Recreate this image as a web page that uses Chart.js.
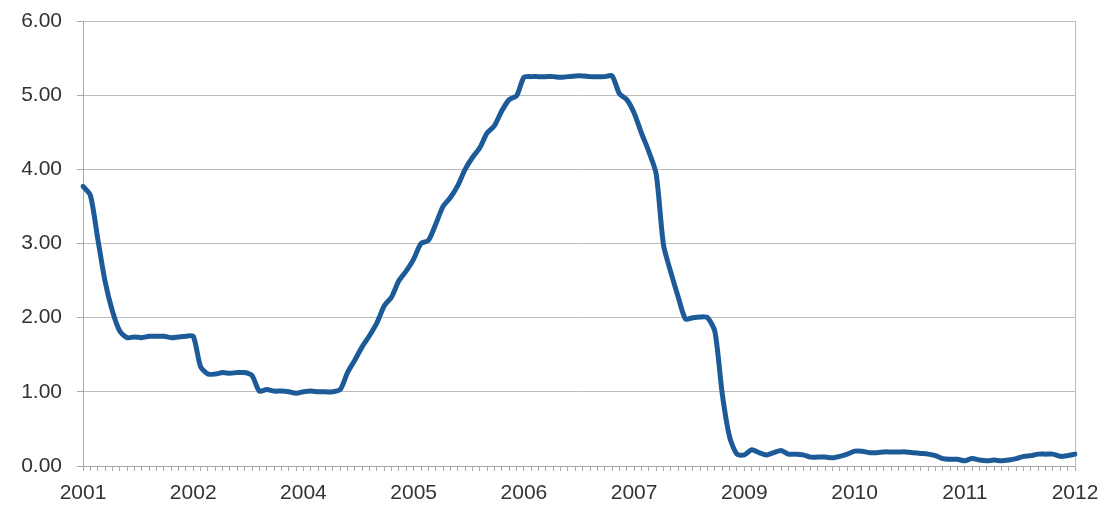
<!DOCTYPE html>
<html>
<head>
<meta charset="utf-8">
<script src="https://cdn.jsdelivr.net/npm/chart.js@4/dist/chart.umd.min.js"></script>
<style>
  html, body { margin: 0; padding: 0; background: #ffffff; }
  #wrap { width: 1102px; height: 507px; position: relative; }
</style>
</head>
<body>
<div id="wrap"><canvas id="c" width="1102" height="507"></canvas></div>
<script>
// Monthly effective rate, July 2001 through October 2012 (percent)
const rate2001 = [3.77, 3.65, 3.07, 2.49, 2.09, 1.82]; // Jul–Dec
const rate2002 = [1.73, 1.74, 1.73, 1.75, 1.75, 1.75, 1.73, 1.74, 1.75, 1.75, 1.34, 1.24];
const rate2003 = [1.24, 1.26, 1.25, 1.26, 1.26, 1.22, 1.01, 1.03, 1.01, 1.01, 1.00, 0.98];
const rate2004 = [1.00, 1.01, 1.00, 1.00, 1.00, 1.03, 1.26, 1.43, 1.61, 1.76, 1.93, 2.16];
const rate2005 = [2.28, 2.50, 2.63, 2.79, 3.00, 3.04, 3.26, 3.50, 3.62, 3.78, 4.00, 4.16];
const rate2006 = [4.29, 4.49, 4.59, 4.79, 4.94, 4.99, 5.24, 5.25, 5.25, 5.25, 5.25, 5.24];
const rate2007 = [5.25, 5.26, 5.26, 5.25, 5.25, 5.25, 5.26, 5.02, 4.94, 4.76, 4.49, 4.24];
const rate2008 = [3.94, 2.98, 2.61, 2.28, 1.98, 2.00, 2.01, 2.00, 1.81, 0.97, 0.39, 0.16];
const rate2009 = [0.15, 0.22, 0.18, 0.15, 0.18, 0.21, 0.16, 0.16, 0.15, 0.12, 0.12, 0.12];
const rate2010 = [0.11, 0.13, 0.16, 0.20, 0.20, 0.18, 0.18, 0.19, 0.19, 0.19, 0.19, 0.18];
const rate2011 = [0.17, 0.16, 0.14, 0.10, 0.09, 0.09, 0.07, 0.10, 0.08, 0.07, 0.08, 0.07];
const rate2012 = [0.08, 0.10, 0.13, 0.14, 0.16, 0.16, 0.16, 0.13, 0.14, 0.16]; // Jan–Oct

const values = [].concat(rate2001, rate2002, rate2003, rate2004, rate2005, rate2006,
                         rate2007, rate2008, rate2009, rate2010, rate2011, rate2012);

// Category labels "YYYY-MM", one per month, starting July 2001
const firstYear = 2001, firstMonth = 7;
const months = values.map((_, i) => {
  const m = firstMonth - 1 + i;
  const y = firstYear + Math.floor(m / 12);
  return y + '-' + String((m % 12) + 1).padStart(2, '0');
});

// A year label is shown on every 15th month
const labelEvery = 15;

const yTicks = [0, 1, 2, 3, 4, 5, 6];

const gridColor = '#bcbcbc';
const axisColor = '#a8a8a8';
const textColor = '#333333';
const lineColor = '#1c5b97';

const font = { family: '"Liberation Sans", Arial, sans-serif', size: 21 };

// Keep label overflow from shrinking the plot area; outer padding sets it instead
function noOverflow(scale) {
  scale.paddingTop = 0;
  scale.paddingBottom = 0;
  scale.paddingLeft = 0;
  scale.paddingRight = 0;
}

new Chart(document.getElementById('c'), {
  type: 'line',
  data: {
    labels: months,
    datasets: [{
      data: values,
      borderColor: lineColor,
      borderWidth: 5,
      pointRadius: 0,
      tension: 0.25,
      fill: false,
      borderCapStyle: 'round',
      borderJoinStyle: 'round'
    }]
  },
  options: {
    responsive: false,
    animation: false,
    devicePixelRatio: 1,
    layout: { padding: { top: 21, right: 27, bottom: 0, left: 0 } },
    plugins: { legend: { display: false }, tooltip: { enabled: false } },
    scales: {
      x: {
        type: 'category',
        offset: false,
        grid: {
          display: true,
          drawOnChartArea: false,
          drawTicks: true,
          tickLength: 5,
          color: axisColor,
          lineWidth: 1
        },
        border: { display: true, color: axisColor, width: 1 },
        ticks: {
          autoSkip: false,
          maxRotation: 0,
          minRotation: 0,
          padding: 10,
          color: textColor,
          font: font,
          callback: function (value, index) {
            return index % labelEvery === 0 ? months[index].slice(0, 4) : '';
          }
        },
        afterFit: function (scale) { scale.height = 41; noOverflow(scale); }
      },
      y: {
        min: 0,
        max: 6,
        afterBuildTicks: function (scale) {
          scale.ticks = yTicks.map(v => ({ value: v }));
        },
        grid: {
          color: gridColor,
          lineWidth: 1,
          drawTicks: true,
          tickLength: 6,
          tickColor: axisColor
        },
        border: { display: true, color: axisColor, width: 1 },
        ticks: {
          padding: 15,
          color: textColor,
          font: font,
          callback: function (value) { return Number(value).toFixed(2); }
        },
        afterFit: function (scale) { scale.width = 83; noOverflow(scale); }
      },
      yRight: {
        position: 'right',
        min: 0,
        max: 6,
        grid: { display: false, drawTicks: false },
        border: { display: true, color: gridColor, width: 1 },
        ticks: { display: false },
        afterFit: function (scale) { scale.width = 0; noOverflow(scale); }
      }
    }
  }
});
</script>
</body>
</html>
